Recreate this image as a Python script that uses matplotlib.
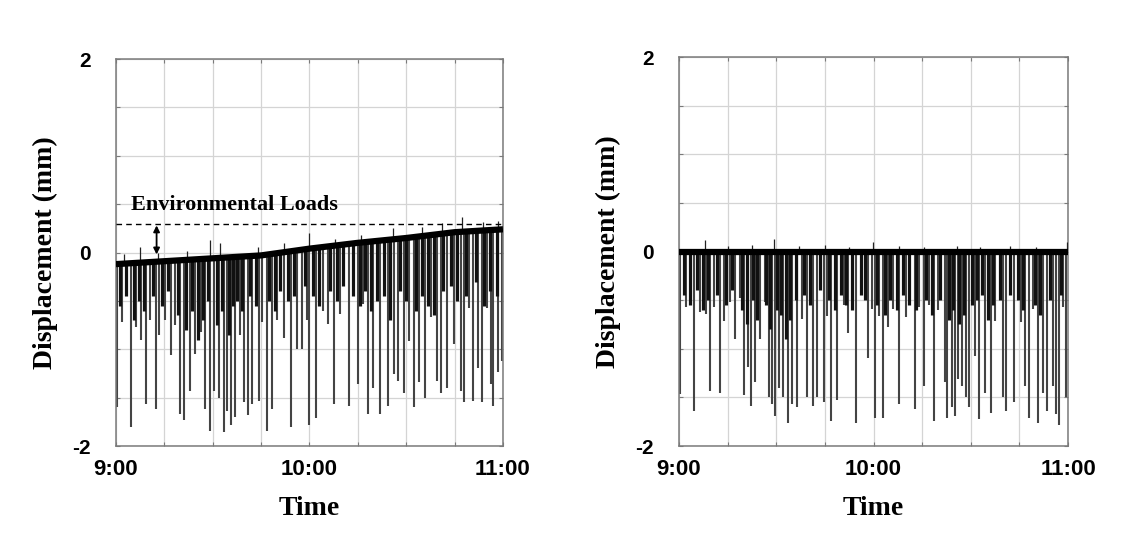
import numpy as np
import matplotlib.pyplot as plt
from matplotlib.ticker import MultipleLocator, FuncFormatter

# time axis in minutes after 9:00, displacement in mm
left_base_t = [0, 15, 30, 45, 60, 75, 90, 105, 120]
left_base_v = [-0.12, -0.09, -0.06, -0.03, 0.04, 0.10, 0.15, 0.21, 0.24]
right_base_t = [0, 120]
right_base_v = [-0.01, -0.01]

left_spike_t = [0.3, 1.9, 4.7, 6.3, 7.9, 9.4, 10.7, 12.4, 13.4, 15.3,
                17.1, 18.4, 20.0, 21.2, 22.9, 24.6, 26.4, 27.7, 29.1, 30.3,
                32.0, 33.4, 34.4, 35.7, 36.8, 38.4, 39.8, 41.0, 42.2, 44.3,
                45.3, 46.7, 48.4, 50.0, 52.0, 54.3, 56.0, 57.7, 59.3,
                60.0, 62.1, 64.1, 65.7, 67.5, 69.6, 72.4, 74.9, 76.5, 78.0,
                79.6, 82.0, 84.2, 86.1, 87.3, 89.2, 90.9, 92.3, 94.0, 95.9,
                97.6, 99.5, 100.7, 102.8, 104.8, 106.9, 107.9, 109.5, 110.8, 112.3,
                113.6, 115.2, 116.4, 117.0, 118.5, 119.7]
left_spike_v = [-1.6, -0.72, -1.8, -0.77, -0.9, -1.57, -0.7, -1.62, -0.85, -0.7,
                -1.06, -0.75, -1.67, -1.73, -1.43, -1.05, -0.82, -1.62, -1.85, -1.43,
                -1.5, -1.86, -1.64, -1.78, -1.7, -0.85, -1.55, -1.68, -1.57, -1.54,
                -0.72, -1.85, -1.62, -0.7, -0.88, -1.8, -1.0, -1.0, -0.7,
                -1.78, -1.71, -0.6, -0.74, -1.57, -0.64, -1.59, -1.36, -0.53, -1.67,
                -1.4, -1.67, -1.59, -1.26, -1.33, -1.45, -0.91, -1.6, -1.34, -1.5,
                -0.67, -1.33, -1.45, -1.4, -0.95, -1.43, -1.55, -0.57, -1.53, -1.19,
                -1.55, -0.57, -1.36, -1.59, -1.24, -1.12]

left_short_t = [1.2, 3.0, 5.5, 7.0, 8.6, 11.5, 14.2, 16.2, 19.2, 21.8,
                23.6, 25.5, 27.0, 28.4, 31.2, 33.0, 35.0, 36.2, 37.4, 39.1,
                41.6, 43.3, 47.5, 49.2, 51.0, 53.2, 55.2, 58.5, 61.0, 63.0,
                66.5, 68.5, 70.5, 73.5, 75.6, 77.2, 79.0, 80.8, 83.0, 85.0,
                88.2, 90.0, 93.1, 95.0, 96.8, 98.5, 101.5, 103.8, 105.8, 108.5,
                111.5, 114.2, 116.0, 118.0]
left_short_v = [-0.55, -0.45, -0.7, -0.5, -0.6, -0.45, -0.55, -0.4, -0.65, -0.8,
                -0.6, -0.9, -0.7, -0.5, -0.75, -0.6, -0.85, -0.55, -0.5, -0.6,
                -0.45, -0.55, -0.5, -0.6, -0.4, -0.5, -0.45, -0.35, -0.45, -0.55,
                -0.4, -0.5, -0.35, -0.45, -0.55, -0.4, -0.6, -0.5, -0.45, -0.7,
                -0.4, -0.5, -0.6, -0.45, -0.55, -0.65, -0.4, -0.35, -0.5, -0.45,
                -0.3, -0.55, -0.4, -0.45]

left_up_t = [2.5, 7.6, 13.0, 22.0, 29.1, 32.3, 44.0, 52.0, 59.8, 68.0,
             76.0, 85.9, 95.0, 101.0, 107.2, 113.8, 118.5]
left_up_v = [-0.02, 0.06, 0.0, 0.02, 0.13, 0.1, 0.06, 0.1, 0.2, 0.14,
             0.18, 0.25, 0.26, 0.3, 0.37, 0.32, 0.33]

right_spike_t = [0.4, 2.3, 4.7, 6.4, 8.2, 9.5, 10.9, 12.6, 13.8, 15.7,
                 17.2, 18.8, 20.0, 21.3, 22.1, 23.3, 25.0, 26.4, 27.9, 28.8,
                 29.5, 30.9, 32.2, 33.6, 35.0, 36.5, 37.8, 39.6, 41.2, 42.5,
                 44.8, 45.6, 46.9, 48.7, 50.8, 52.2, 54.6, 58.2, 59.5,
                 60.5, 61.7, 62.8, 64.6, 66.0, 67.9, 69.9, 72.8, 74.0, 75.5,
                 77.0, 78.6, 79.9, 81.9, 82.6, 84.2, 85.0, 86.0, 87.2, 88.5,
                 89.5, 91.3, 92.6, 94.4, 96.1, 97.6, 99.8, 101.0, 103.4, 105.4,
                 106.8, 108.1, 109.2, 110.7, 112.2, 113.6, 115.3, 116.3, 117.3, 118.6,
                 119.4]
right_spike_v = [-1.47, -0.57, -1.64, -0.62, -0.64, -1.43, -0.57, -1.45, -0.71, -0.52,
                 -0.9, -0.48, -1.48, -1.19, -1.59, -1.34, -0.9, -0.52, -1.5, -1.57,
                 -1.69, -1.4, -1.5, -1.76, -1.57, -1.6, -0.69, -1.5, -1.59, -1.5,
                 -1.55, -0.66, -1.74, -1.53, -0.55, -0.84, -1.76, -1.09, -0.59,
                 -1.71, -0.66, -1.71, -0.78, -0.59, -1.57, -0.67, -1.62, -0.57, -1.38,
                 -0.55, -1.74, -0.6, -1.34, -1.71, -1.6, -1.69, -1.31, -1.38, -1.5,
                 -1.6, -1.07, -1.72, -1.45, -1.66, -0.71, -1.5, -1.64, -1.55, -0.72,
                 -1.38, -1.71, -0.59, -1.76, -1.45, -1.64, -1.38, -1.67, -1.78, -0.57,
                 -1.5]

right_short_t = [1.5, 3.3, 5.6, 7.3, 9.0, 11.8, 14.5, 16.5, 19.5, 21.0,
                 22.7, 24.2, 26.8, 28.2, 30.2, 31.5, 33.0, 34.3, 36.0, 38.5,
                 40.4, 43.5, 46.2, 48.0, 50.0, 51.5, 53.5, 56.0, 57.5, 61.2,
                 63.5, 65.2, 67.2, 69.0, 71.0, 73.2, 76.2, 78.0, 80.5, 83.4,
                 84.6, 86.5, 88.0, 90.5, 92.0, 93.6, 95.3, 97.0, 99.0, 102.2,
                 104.5, 106.0, 109.8, 111.5, 114.5, 117.8]
right_short_v = [-0.45, -0.55, -0.4, -0.6, -0.5, -0.45, -0.55, -0.4, -0.6, -0.75,
                 -0.5, -0.7, -0.55, -0.8, -0.6, -0.65, -0.9, -0.7, -0.5, -0.45,
                 -0.55, -0.4, -0.5, -0.6, -0.45, -0.55, -0.6, -0.45, -0.5, -0.55,
                 -0.65, -0.5, -0.6, -0.45, -0.55, -0.6, -0.5, -0.65, -0.5, -0.7,
                 -0.6, -0.75, -0.65, -0.55, -0.5, -0.45, -0.7, -0.55, -0.5, -0.45,
                 -0.5, -0.6, -0.55, -0.65, -0.5, -0.45]

right_up_t = [8.0, 15.0, 22.5, 29.3, 37.0, 45.0, 52.5, 59.8, 68.0, 75.5,
              85.7, 93.0, 102.0, 110.0, 119.6]
right_up_v = [0.12, 0.06, 0.07, 0.13, 0.06, 0.07, 0.05, 0.1, 0.06, 0.05,
              0.06, 0.05, 0.06, 0.05, 0.1]

env_level = 0.29
arrow_t = 12.6

time_labels = {0: '9:00', 60: '10:00', 120: '11:00'}
y_labels = {-2: '-2', 0: '0', 2: '2'}

serif = 'Liberation Serif'
sans = 'Liberation Sans'


def draw_panel(ax, base_t, base_v, spike_t, spike_v, short_t, short_v, up_t, up_v):
    top = np.interp(spike_t, base_t, base_v)
    ax.vlines(spike_t, spike_v, top, color='#444444', lw=1.5, zorder=2)
    top_s = np.interp(short_t, base_t, base_v)
    ax.vlines(short_t, short_v, top_s, color='#111111', lw=2.3, zorder=3)
    top_u = np.interp(up_t, base_t, base_v)
    ax.vlines(up_t, top_u, up_v, color='#222222', lw=0.9, zorder=3)
    ax.plot(base_t, base_v, color='black', lw=4.5, zorder=4, solid_capstyle='butt')

    ax.set_xlim(0, 120)
    ax.set_ylim(-2, 2)
    ax.xaxis.set_major_locator(MultipleLocator(15))
    ax.yaxis.set_major_locator(MultipleLocator(0.5))
    ax.xaxis.set_major_formatter(FuncFormatter(lambda v, p: time_labels.get(int(round(v)), '')))
    ax.yaxis.set_major_formatter(FuncFormatter(
        lambda v, p: y_labels.get(int(round(v)), '') if abs(v - round(v)) < 1e-6 else ''))
    ax.grid(True, color='#d4d4d4', lw=0.9)
    ax.set_axisbelow(True)
    for s in ax.spines.values():
        s.set_color('#7a7a7a')
        s.set_linewidth(1.1)
    ax.tick_params(direction='in', length=3, color='#7a7a7a', top=True, right=True)
    ax.tick_params(axis='x', pad=9)
    ax.tick_params(axis='y', pad=18)
    for lab in ax.get_xticklabels():
        lab.set_fontfamily(sans)
        lab.set_fontweight('bold')
        lab.set_fontsize(16)
    for lab in ax.get_yticklabels():
        lab.set_fontfamily(sans)
        lab.set_fontweight('bold')
        lab.set_fontsize(15)
    ax.set_xlabel('Time', family=serif, fontweight='bold', fontsize=20, labelpad=12)
    ax.set_ylabel('Displacement (mm)', family=serif, fontweight='bold', fontsize=20, labelpad=10)


fig = plt.figure(figsize=(11.29, 5.38), dpi=100)
ax1 = fig.add_axes([0.1027, 0.171, 0.3428, 0.7193])
ax2 = fig.add_axes([0.6014, 0.171, 0.3446, 0.723])

draw_panel(ax1, left_base_t, left_base_v, left_spike_t, left_spike_v,
           left_short_t, left_short_v, left_up_t, left_up_v)
draw_panel(ax2, right_base_t, right_base_v, right_spike_t, right_spike_v,
           right_short_t, right_short_v, right_up_t, right_up_v)

ax1.hlines(env_level, 0, 120, colors='black', linestyles=(0, (4, 3)), lw=1.0, zorder=5)
ax1.annotate('', xy=(arrow_t, env_level - 0.01), xytext=(arrow_t, -0.02),
             arrowprops=dict(arrowstyle='<|-|>', color='black', lw=1.3,
                             mutation_scale=9, shrinkA=0, shrinkB=0), zorder=6)
ax1.text(4.6, 0.49, 'Environmental Loads', family=serif, fontweight='bold',
         fontsize=16, va='center', ha='left', zorder=6)

fig.savefig('out.png', dpi=100)
